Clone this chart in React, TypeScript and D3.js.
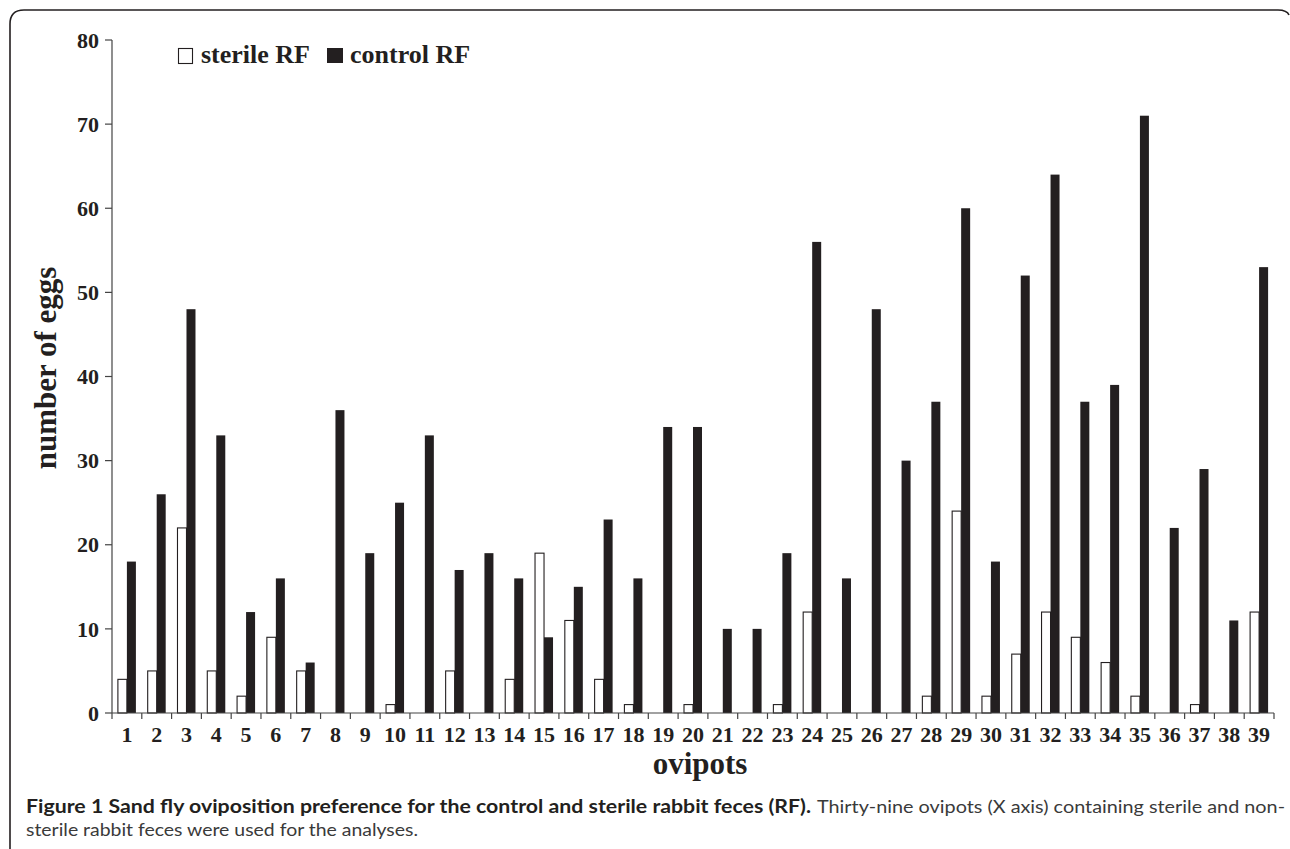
import React from "react";
import * as d3 from "d3";

const ovipots: string[] = Array.from({ length: 39 }, (_, i) => String(i + 1));
const sterileRF: number[] = [4, 5, 22, 5, 2, 9, 5, 0, 0, 1, 0, 5, 0, 4, 19, 11, 4, 1, 0, 1, 0, 0, 1, 12, 0, 0, 0, 2, 24, 2, 7, 12, 9, 6, 2, 0, 1, 0, 12];
const controlRF: number[] = [18, 26, 48, 33, 12, 16, 6, 36, 19, 25, 33, 17, 19, 16, 9, 15, 23, 16, 34, 34, 10, 10, 19, 56, 16, 48, 30, 37, 60, 18, 52, 64, 37, 39, 71, 22, 29, 11, 53];
const yTicks: number[] = [0, 10, 20, 30, 40, 50, 60, 70, 80];

const W = 1290;
const H = 849;
const serif = "'Liberation Serif', 'Times New Roman', serif";
const sans = "Lato, 'Open Sans', sans-serif";
const ink = "#231f20";

export default function App() {
  const x = d3.scaleBand<string>().domain(ovipots).range([112, 1274]).paddingInner(0).paddingOuter(0);
  const y = d3.scaleLinear().domain([0, 80]).range([713, 40]);
  const bw = x.bandwidth();
  const barW = 9;

  return (
    <svg width={W} height={H} style={{ position: "absolute", left: 0, top: 0, background: "#fff" }}>
      {/* frame */}
      <path d="M10,849 L10,24 Q10,10 24,10 L1278,10 Q1287,10 1289,15" fill="none" stroke={ink} strokeWidth={1.6} />

      {/* bars */}
      {ovipots.map((k, i) => {
        const x0 = (x(k) as number) + bw / 2;
        return (
          <g key={k}>
            <rect x={x0 - barW} y={y(sterileRF[i])} width={barW} height={Math.max(0, y(0) - y(sterileRF[i]))} fill="#fff" stroke={ink} strokeWidth={1.1} />
            <rect x={x0} y={y(controlRF[i])} width={barW} height={y(0) - y(controlRF[i])} fill={ink} />
          </g>
        );
      })}

      {/* y axis */}
      <line x1={112} x2={112} y1={y(80)} y2={719} stroke="#444" strokeWidth={1.2} />
      {yTicks.map((t) => (
        <g key={t}>
          <line x1={105} x2={112} y1={y(t)} y2={y(t)} stroke="#444" strokeWidth={1.2} />
          <text x={99} y={y(t)} dy="0.35em" textAnchor="end" fontFamily={serif} fontWeight="bold" fontSize={22} fill={ink}>
            {t}
          </text>
        </g>
      ))}

      {/* x axis */}
      <line x1={112} x2={1274} y1={y(0)} y2={y(0)} stroke="#444" strokeWidth={1.2} />
      {ovipots.map((k) => (
        <line key={"t" + k} x1={(x(k) as number) + bw} x2={(x(k) as number) + bw} y1={y(0)} y2={y(0) + 6} stroke="#444" strokeWidth={1.2} />
      ))}
      {ovipots.map((k) => (
        <text key={"l" + k} x={(x(k) as number) + bw / 2} y={742} textAnchor="middle" fontFamily={serif} fontWeight="bold" fontSize={22} fill={ink}>
          {k}
        </text>
      ))}

      {/* axis titles */}
      <text x={700} y={774} textAnchor="middle" fontFamily={serif} fontWeight="bold" fontSize={31} fill={ink}>
        ovipots
      </text>
      <text transform="translate(56,368) rotate(-90)" textAnchor="middle" fontFamily={serif} fontWeight="bold" fontSize={31} fill={ink}>
        number of eggs
      </text>

      {/* legend */}
      <rect x={178.5} y={48.5} width={14} height={15} fill="#fff" stroke={ink} strokeWidth={1.1} />
      <text x={201} y={63} fontFamily={serif} fontWeight="bold" fontSize={26} fill={ink}>
        sterile RF
      </text>
      <rect x={327} y={48} width={16} height={15} fill={ink} />
      <text x={350} y={63} fontFamily={serif} fontWeight="bold" fontSize={26} fill={ink}>
        control RF
      </text>

      {/* caption */}
      <text x={26} y={813} fontFamily={sans} fontWeight="bold" fontSize={18} fill={ink} textLength={785} lengthAdjust="spacingAndGlyphs">
        Figure 1 Sand fly oviposition preference for the control and sterile rabbit feces (RF).
      </text>
      <text x={817} y={813} fontFamily={sans} fontSize={18} fill="#3a3a3a" textLength={468} lengthAdjust="spacingAndGlyphs">
        Thirty-nine ovipots (X axis) containing sterile and non-
      </text>
      <text x={26} y={836} fontFamily={sans} fontSize={18} fill="#3a3a3a" textLength={392} lengthAdjust="spacingAndGlyphs">
        sterile rabbit feces were used for the analyses.
      </text>
    </svg>
  );
}
